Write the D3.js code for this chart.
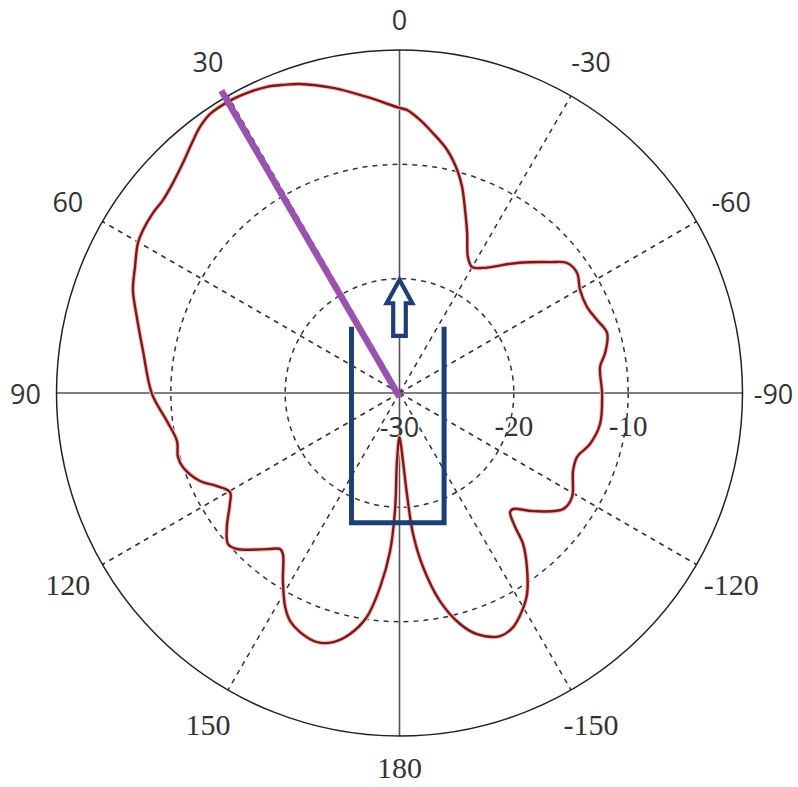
<!DOCTYPE html>
<html><head><meta charset="utf-8">
<script src="https://cdn.jsdelivr.net/npm/d3@7"></script>
<style>html,body{margin:0;padding:0;background:#fff}</style>
</head><body><svg id="chart" width="798" height="787"></svg>
<script>
// Radiation pattern: angle in degrees (counter-clockwise positive, 0 at top), gain in dB
const patternAngles = [0, 6.3, 12.3, 17.9, 20.7, 23.4, 26.4, 29.8, 34.1, 36.9, 39.7, 43.3, 47.2, 50.8, 53.9, 57.6, 60.2, 64.5, 68.9, 73.9, 80.5, 90.2,
  96.9, 102.2, 106.1, 108.9, 113.8, 117.0, 120.3, 123.2, 127.8, 131.4, 133.8, 139.7, 142.6, 144.1, 148.2, 151.9, 154.4, 157.4, 161.7, 165.1,
  168.4, 171.7, 174.3, 176.6, 177.8, 177.9, 180,
  -177.1, -175.8, -174.5, -172.3, -169.0, -165.3, -162.2, -157.5, -154.1, -150.7, -147.6, -143.8, -140.7, -139.2, -137.1, -135.6, -131.5,
  -125.4, -121.1, -114.2, -109.8, -105.0, -98.8, -90.3, -82.6, -79.0, -73.9, -69.7, -65.4, -60.3, -55.9, -52.2, -49.0, -42.1, -33.7,
  -29.9, -26.7, -22.9, -19.7, -16.9, -14.5, -11.1, -7.3, -4.3, -1.5];
const patternValues = [-5.07, -3.95, -2.69, -1.60, -1.19, -0.82, -0.60, -0.45, -0.50, -0.92, -1.58, -2.37, -2.98, -3.30, -3.30, -3.42, -3.63, -4.37, -5.01, -6.09, -7.24, -8.35,
  -9.51, -10.09, -9.83, -9.98, -10.93, -12.08, -12.83, -12.27, -10.89, -10.01, -10.29, -12.09, -12.81, -12.61, -10.65, -8.77, -7.87, -7.35, -7.05, -7.45,
  -8.48, -10.20, -12.94, -16.15, -19.67, -24.05, -26.15,
  -24.04, -21.14, -17.61, -14.64, -11.46, -9.11, -7.85, -6.99, -7.24, -8.12, -9.18, -11.13, -12.93, -14.52, -15.79, -15.80, -14.41,
  -12.46, -12.38, -13.36, -13.49, -12.75, -12.25, -12.28, -12.31, -11.68, -11.10, -11.58, -11.95, -11.82, -11.25, -11.45, -12.55, -14.67, -16.85,
  -17.28, -16.68, -14.80, -12.99, -11.16, -9.85, -8.34, -7.07, -6.05, -5.23];

const angleTicks = [0, 30, 60, 90, 120, 150, 180, -150, -120, -90, -60, -30];
const angleTickLabels = ["0", "30", "60", "90", "120", "150", "180", "-150", "-120", "-90", "-60", "-30"];
const angleLabelSerif = [false, false, false, false, true, true, true, true, true, false, false, false];
const radialTicks = [-30, -20, -10];
const radialTickLabels = ["-30", "-20", "-10"];
const radialDomain = [-30, 0];

// Annotations (purple beam line in polar units; feed outline & arrow in dB-units cartesian)
const beamAngles = [0, 30.5];
const beamValues = [-30, 0.7];
const feedX = [-4.2, -4.2, 3.9, 3.9];
const feedY = [5.8, -11.35, -11.35, 5.8];
const arrowX = [0, 1.12, 0.55, 0.55, -0.55, -0.55, -1.12];
const arrowY = [9.9, 7.85, 7.85, 5.0, 5.0, 7.85, 7.85];

const W = 798, H = 787, cx = 399.5, cy = 393, R = 343;
const svg = d3.select("#chart");
svg.append("rect").attr("width", W).attr("height", H).attr("fill", "#fff");
const g = svg.append("g").attr("transform", `translate(${cx},${cy})`);

const r = d3.scaleLinear().domain(radialDomain).range([0, R]);
const toRad = d => -d * Math.PI / 180;
const xU = d3.scaleLinear().domain([-30, 30]).range([-R, R]);
const yU = d3.scaleLinear().domain([-30, 30]).range([R, -R]);
const px = (deg, v) => [r(v) * Math.sin(toRad(deg)), -r(v) * Math.cos(toRad(deg))];

// dashed rings
g.selectAll("circle.ring").data(radialTicks.slice(1)).join("circle")
  .attr("r", d => r(d)).attr("fill", "none").attr("stroke", "#333")
  .attr("stroke-width", 1.5).attr("stroke-dasharray", "5,5");

// dashed spokes
g.selectAll("line.spoke").data(angleTicks.filter(a => a % 90 !== 0)).join("line")
  .attr("x1", 0).attr("y1", 0)
  .attr("x2", d => px(d, radialDomain[1])[0]).attr("y2", d => px(d, radialDomain[1])[1])
  .attr("stroke", "#333").attr("stroke-width", 1.5).attr("stroke-dasharray", "5,5");

// solid axes
g.append("line").attr("x1", -R).attr("x2", R).attr("y1", 0).attr("y2", 0).attr("stroke", "#555").attr("stroke-width", 1.6);
g.append("line").attr("x1", 0).attr("x2", 0).attr("y1", -R).attr("y2", R).attr("stroke", "#555").attr("stroke-width", 1.6);

// outer circle
g.append("circle").attr("r", r(radialDomain[1])).attr("fill", "none").attr("stroke", "#222").attr("stroke-width", 1.5);

// radial labels
g.selectAll("text.rl").data(radialTicks).join("text")
  .attr("x", d => r(d)).attr("y", 33)
  .attr("text-anchor", "middle").attr("dominant-baseline", "central")
  .attr("font-family", (d, i) => i === 0 ? "'Open Sans', sans-serif" : "'Liberation Serif', 'Times New Roman', serif")
  .attr("font-size", (d, i) => i === 0 ? 27 : 29).attr("fill", "#333")
  .text((d, i) => radialTickLabels[i]);

// angular labels
g.selectAll("text.al").data(angleTicks).join("text")
  .attr("x", d => { const rr = d % 90 === 0 ? 374 : 383; return rr * Math.sin(toRad(d)); })
  .attr("y", d => { const rr = d % 90 === 0 ? 374 : 383; return -rr * Math.cos(toRad(d)); })
  .attr("text-anchor", "middle").attr("dominant-baseline", "central")
  .attr("font-family", (d, i) => angleLabelSerif[i] ? "'Liberation Serif', 'Times New Roman', serif" : "'Open Sans', sans-serif")
  .attr("font-size", (d, i) => angleLabelSerif[i] ? 30 : 27).attr("fill", "#333")
  .text((d, i) => angleTickLabels[i]);

// pattern curve
const pts = patternAngles.map((a, i) => ({a, v: patternValues[i]}));
const radial = d3.lineRadial().angle(d => toRad(d.a)).radius(d => r(d.v)).curve(d3.curveCatmullRomClosed.alpha(0.5));
g.append("path").attr("d", radial(pts)).attr("fill", "none").attr("stroke", "#f2c4c4").attr("stroke-width", 4.5);
g.append("path").attr("d", radial(pts)).attr("fill", "none").attr("stroke", "#801818").attr("stroke-width", 2.4).attr("stroke-linejoin", "round");

// feed outline (U shape)
const cart = d3.line().x(d => xU(d[0])).y(d => yU(d[1]));
g.append("path").attr("d", cart(feedX.map((x, i) => [x, feedY[i]])))
  .attr("fill", "none").attr("stroke", "#1c3f75").attr("stroke-width", 5).attr("stroke-linejoin", "miter");

// arrow
g.append("path").attr("d", cart(arrowX.map((x, i) => [x, arrowY[i]])) + "Z")
  .attr("fill", "#fff").attr("stroke", "#1c3f75").attr("stroke-width", 4.2).attr("stroke-linejoin", "miter");

// purple beam line
const beam = beamAngles.map((a, i) => px(a, beamValues[i]));
g.append("line").attr("x1", beam[0][0]).attr("y1", beam[0][1] + 4).attr("x2", beam[1][0]).attr("y2", beam[1][1])
  .attr("stroke", "#9a52ae").attr("stroke-width", 6.5);
</script></body></html>
